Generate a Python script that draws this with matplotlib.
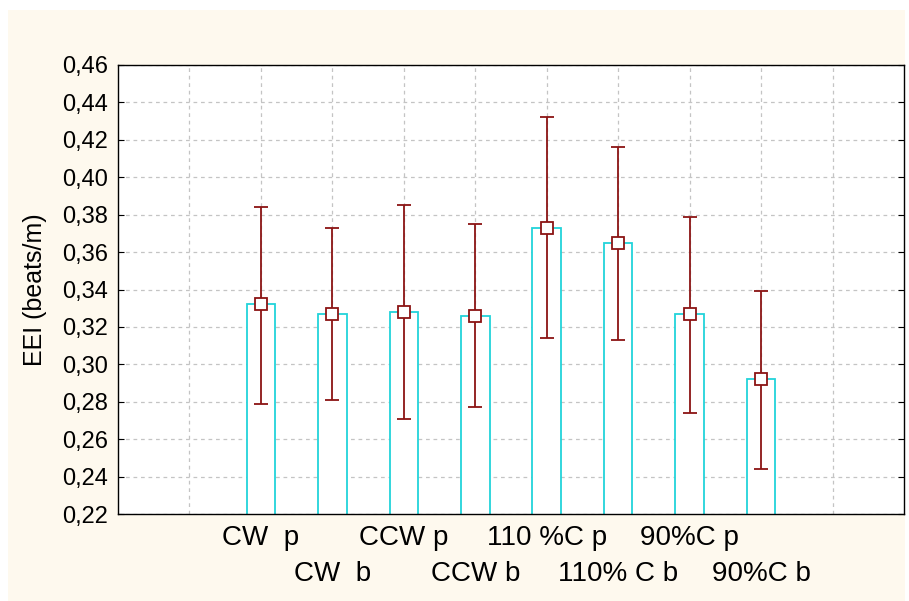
import matplotlib
matplotlib.use("Agg")
import matplotlib.pyplot as plt
import matplotlib.transforms as mtransforms
from matplotlib.patches import Rectangle

categories = ["CW  p", "CW  b", "CCW p", "CCW b", "110 %C p", "110% C b", "90%C p", "90%C b"]
means = [0.332, 0.327, 0.328, 0.326, 0.373, 0.365, 0.327, 0.292]
upper = [0.384, 0.373, 0.385, 0.375, 0.432, 0.416, 0.379, 0.339]
lower = [0.279, 0.281, 0.271, 0.277, 0.314, 0.313, 0.274, 0.244]
yticks = [0.22, 0.24, 0.26, 0.28, 0.30, 0.32, 0.34, 0.36, 0.38, 0.40, 0.42, 0.44, 0.46]

plt.rcParams['font.family'] = ['Liberation Sans', 'DejaVu Sans']

W, H = 909, 601
fig = plt.figure(figsize=(W / 100, H / 100), dpi=100)
fig.patch.set_facecolor('white')
fig.patches.append(Rectangle((8 / W, 0), (905 - 8) / W, (H - 10) / H,
                             transform=fig.transFigure, facecolor='#FEF9EE',
                             edgecolor='none', zorder=-10))

ax = fig.add_axes([118 / W, 1 - 514 / H, (904 - 118) / W, (514 - 65) / H])
ax.set_facecolor('white')

x = list(range(2, 2 + len(categories)))
err_lo = [m - l for m, l in zip(means, lower)]
err_hi = [u - m for m, u in zip(means, upper)]

ax.bar(x, means, width=0.4, facecolor='white', edgecolor='#22D3DA',
       linewidth=1.3, zorder=2)
ax.errorbar(x, means, yerr=[err_lo, err_hi], fmt='none', ecolor='#8B1414',
            elinewidth=1.3, capsize=5, capthick=1.3, zorder=3)
ax.plot(x, means, linestyle='none', marker='s', markersize=8,
        markerfacecolor='white', markeredgecolor='#8B1414',
        markeredgewidth=1.3, zorder=4)

ax.set_xlim(0, 11)
ax.set_ylim(0.22, 0.46)
ax.set_yticks(yticks)
ax.set_yticklabels([f"{v:.2f}".replace('.', ',') for v in yticks], fontsize=17)
ax.set_xticks(x)
ax.set_xticklabels([])
ax.set_xticks([1, 10], minor=True)

# staggered category labels
trans = mtransforms.blended_transform_factory(ax.transData, fig.transFigure)
for i, (xi, c) in enumerate(zip(x, categories)):
    ypix = 538 if i % 2 == 0 else 574
    ax.text(xi, 1 - ypix / H, c, transform=trans, ha='center', va='center',
            fontsize=20, clip_on=False)

ax.tick_params(axis='y', direction='in', length=4, left=True, right=True, pad=7,
               width=0.8)
ax.tick_params(axis='x', which='major', direction='in', length=4, bottom=True, top=False,
               width=0.8)
ax.tick_params(axis='x', which='minor', length=0)

ax.grid(True, which='both', color='#C4C4C4', linestyle=(0, (3, 3)), linewidth=0.9)
ax.set_axisbelow(True)
for s in ax.spines.values():
    s.set_linewidth(1.0)
    s.set_color('black')

ax.set_ylabel("EEI (beats/m)", fontsize=18)
ax.yaxis.set_label_coords((47 - 118) / 786, 0.5)

fig.savefig("out.png", dpi=100)
